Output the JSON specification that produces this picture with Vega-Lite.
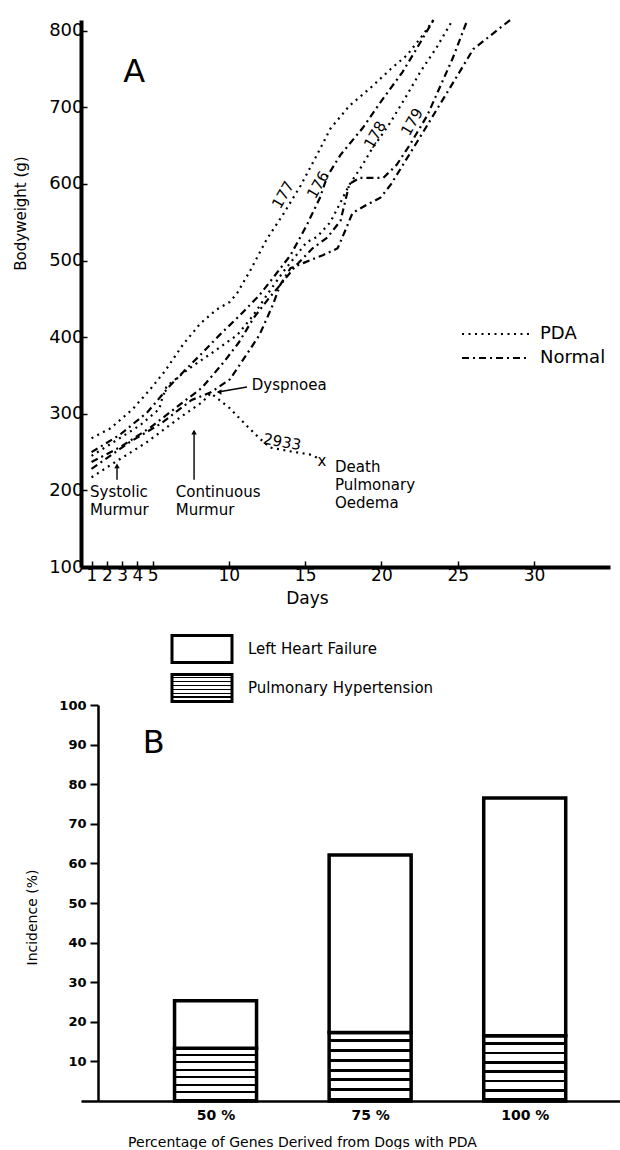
{
  "$schema": "https://vega.github.io/schema/vega-lite/v6.json",
  "background": "white",
  "padding": {"left": 13, "top": 15, "right": 0, "bottom": 0},
  "autosize": {"type": "pad"},
  "bounds": "flush",
  "spacing": 138,
  "config": {
    "font": "DejaVu Sans",
    "view": {"stroke": null},
    "axis": {"grid": false, "domainColor": "black", "tickColor": "black", "labelColor": "black", "titleColor": "black", "titleFontWeight": "normal", "labelOverlap": false, "labelFlush": false, "labelBound": false},
    "legend": {"labelColor": "black", "labelFont": "DejaVu Sans", "labelLimit": 400}
  },
  "datasets": {
    "weights": [
      {"dog": "177", "group": "PDA", "day": 1, "w": 268}, {"dog": "177", "group": "PDA", "day": 2.24, "w": 281}, {"dog": "177", "group": "PDA", "day": 3.69, "w": 306}, {"dog": "177", "group": "PDA", "day": 4.85, "w": 332}, {"dog": "177", "group": "PDA", "day": 5.82, "w": 356}, {"dog": "177", "group": "PDA", "day": 6.98, "w": 390}, {"dog": "177", "group": "PDA", "day": 8.14, "w": 418}, {"dog": "177", "group": "PDA", "day": 9.2, "w": 436}, {"dog": "177", "group": "PDA", "day": 10.07, "w": 446}, {"dog": "177", "group": "PDA", "day": 10.56, "w": 458}, {"dog": "177", "group": "PDA", "day": 11.43, "w": 488}, {"dog": "177", "group": "PDA", "day": 12.49, "w": 528}, {"dog": "177", "group": "PDA", "day": 13.55, "w": 560}, {"dog": "177", "group": "PDA", "day": 14.71, "w": 598}, {"dog": "177", "group": "PDA", "day": 15.78, "w": 638}, {"dog": "177", "group": "PDA", "day": 16.65, "w": 672}, {"dog": "177", "group": "PDA", "day": 17.9, "w": 702}, {"dog": "177", "group": "PDA", "day": 19.26, "w": 725}, {"dog": "177", "group": "PDA", "day": 20.61, "w": 750}, {"dog": "177", "group": "PDA", "day": 21.67, "w": 768}, {"dog": "177", "group": "PDA", "day": 22.74, "w": 795}, {"dog": "177", "group": "PDA", "day": 23.41, "w": 814},
      {"dog": "176", "group": "Normal", "day": 1, "w": 250}, {"dog": "176", "group": "Normal", "day": 2.82, "w": 272}, {"dog": "176", "group": "Normal", "day": 4.66, "w": 302}, {"dog": "176", "group": "Normal", "day": 6.11, "w": 336}, {"dog": "176", "group": "Normal", "day": 7.08, "w": 356}, {"dog": "176", "group": "Normal", "day": 8.14, "w": 377}, {"dog": "176", "group": "Normal", "day": 9.4, "w": 403}, {"dog": "176", "group": "Normal", "day": 10.75, "w": 429}, {"dog": "176", "group": "Normal", "day": 12.01, "w": 455}, {"dog": "176", "group": "Normal", "day": 12.88, "w": 477}, {"dog": "176", "group": "Normal", "day": 14.04, "w": 507}, {"dog": "176", "group": "Normal", "day": 15.1, "w": 546}, {"dog": "176", "group": "Normal", "day": 15.97, "w": 582}, {"dog": "176", "group": "Normal", "day": 16.45, "w": 610}, {"dog": "176", "group": "Normal", "day": 17.32, "w": 638}, {"dog": "176", "group": "Normal", "day": 18.77, "w": 673}, {"dog": "176", "group": "Normal", "day": 20.13, "w": 712}, {"dog": "176", "group": "Normal", "day": 21.38, "w": 746}, {"dog": "176", "group": "Normal", "day": 22.35, "w": 778}, {"dog": "176", "group": "Normal", "day": 23.41, "w": 814},
      {"dog": "178", "group": "PDA", "day": 1, "w": 245}, {"dog": "178", "group": "PDA", "day": 2.44, "w": 263}, {"dog": "178", "group": "PDA", "day": 4.18, "w": 285}, {"dog": "178", "group": "PDA", "day": 5.43, "w": 306}, {"dog": "178", "group": "PDA", "day": 5.63, "w": 320}, {"dog": "178", "group": "PDA", "day": 5.92, "w": 336}, {"dog": "178", "group": "PDA", "day": 7.46, "w": 360}, {"dog": "178", "group": "PDA", "day": 9.01, "w": 381}, {"dog": "178", "group": "PDA", "day": 10.56, "w": 403}, {"dog": "178", "group": "PDA", "day": 11.62, "w": 429}, {"dog": "178", "group": "PDA", "day": 12.49, "w": 455}, {"dog": "178", "group": "PDA", "day": 13.55, "w": 485}, {"dog": "178", "group": "PDA", "day": 15.1, "w": 524}, {"dog": "178", "group": "PDA", "day": 15.78, "w": 531}, {"dog": "178", "group": "PDA", "day": 16.65, "w": 550}, {"dog": "178", "group": "PDA", "day": 17.32, "w": 576}, {"dog": "178", "group": "PDA", "day": 17.9, "w": 599}, {"dog": "178", "group": "PDA", "day": 18.77, "w": 625}, {"dog": "178", "group": "PDA", "day": 19.26, "w": 642}, {"dog": "178", "group": "PDA", "day": 20.61, "w": 681}, {"dog": "178", "group": "PDA", "day": 21.67, "w": 716}, {"dog": "178", "group": "PDA", "day": 22.54, "w": 746}, {"dog": "178", "group": "PDA", "day": 23.61, "w": 778}, {"dog": "178", "group": "PDA", "day": 24.67, "w": 814},
      {"dog": "179", "group": "Normal", "day": 1, "w": 237}, {"dog": "179", "group": "Normal", "day": 2.92, "w": 257}, {"dog": "179", "group": "Normal", "day": 4.85, "w": 282}, {"dog": "179", "group": "Normal", "day": 6.79, "w": 312}, {"dog": "179", "group": "Normal", "day": 8.24, "w": 334}, {"dog": "179", "group": "Normal", "day": 9.69, "w": 368}, {"dog": "179", "group": "Normal", "day": 10.65, "w": 393}, {"dog": "179", "group": "Normal", "day": 11.62, "w": 425}, {"dog": "179", "group": "Normal", "day": 12.59, "w": 450}, {"dog": "179", "group": "Normal", "day": 13.36, "w": 468}, {"dog": "179", "group": "Normal", "day": 14.42, "w": 494}, {"dog": "179", "group": "Normal", "day": 15.49, "w": 516}, {"dog": "179", "group": "Normal", "day": 16.45, "w": 530}, {"dog": "179", "group": "Normal", "day": 17.32, "w": 552}, {"dog": "179", "group": "Normal", "day": 17.9, "w": 600}, {"dog": "179", "group": "Normal", "day": 18.58, "w": 608}, {"dog": "179", "group": "Normal", "day": 20.13, "w": 608}, {"dog": "179", "group": "Normal", "day": 21.0, "w": 625}, {"dog": "179", "group": "Normal", "day": 21.86, "w": 651}, {"dog": "179", "group": "Normal", "day": 23.02, "w": 690}, {"dog": "179", "group": "Normal", "day": 23.8, "w": 725}, {"dog": "179", "group": "Normal", "day": 24.67, "w": 764}, {"dog": "179", "group": "Normal", "day": 25.63, "w": 814},
      {"dog": "N3", "group": "Normal", "day": 1, "w": 228}, {"dog": "N3", "group": "Normal", "day": 3.5, "w": 263}, {"dog": "N3", "group": "Normal", "day": 5.53, "w": 287}, {"dog": "N3", "group": "Normal", "day": 7.56, "w": 318}, {"dog": "N3", "group": "Normal", "day": 8.82, "w": 328}, {"dog": "N3", "group": "Normal", "day": 10.07, "w": 345}, {"dog": "N3", "group": "Normal", "day": 10.75, "w": 365}, {"dog": "N3", "group": "Normal", "day": 12.01, "w": 403}, {"dog": "N3", "group": "Normal", "day": 12.88, "w": 442}, {"dog": "N3", "group": "Normal", "day": 13.36, "w": 468}, {"dog": "N3", "group": "Normal", "day": 14.04, "w": 490}, {"dog": "N3", "group": "Normal", "day": 14.91, "w": 497}, {"dog": "N3", "group": "Normal", "day": 16.16, "w": 507}, {"dog": "N3", "group": "Normal", "day": 17.13, "w": 516}, {"dog": "N3", "group": "Normal", "day": 17.71, "w": 543}, {"dog": "N3", "group": "Normal", "day": 18.1, "w": 562}, {"dog": "N3", "group": "Normal", "day": 19.06, "w": 573}, {"dog": "N3", "group": "Normal", "day": 19.93, "w": 582}, {"dog": "N3", "group": "Normal", "day": 20.61, "w": 599}, {"dog": "N3", "group": "Normal", "day": 22.74, "w": 668}, {"dog": "N3", "group": "Normal", "day": 24.48, "w": 725}, {"dog": "N3", "group": "Normal", "day": 26.02, "w": 776}, {"dog": "N3", "group": "Normal", "day": 28.44, "w": 814},
      {"dog": "2933", "group": "PDA", "day": 1, "w": 217}, {"dog": "2933", "group": "PDA", "day": 2.63, "w": 238}, {"dog": "2933", "group": "PDA", "day": 4.56, "w": 262}, {"dog": "2933", "group": "PDA", "day": 6.79, "w": 295}, {"dog": "2933", "group": "PDA", "day": 8.24, "w": 315}, {"dog": "2933", "group": "PDA", "day": 8.82, "w": 327}, {"dog": "2933", "group": "PDA", "day": 10.07, "w": 307}, {"dog": "2933", "group": "PDA", "day": 11.14, "w": 285}, {"dog": "2933", "group": "PDA", "day": 12.01, "w": 268}, {"dog": "2933", "group": "PDA", "day": 12.68, "w": 256}, {"dog": "2933", "group": "PDA", "day": 14.04, "w": 251}, {"dog": "2933", "group": "PDA", "day": 15.29, "w": 247}, {"dog": "2933", "group": "PDA", "day": 15.85, "w": 242}
    ],
    "notes": [
      {"day": 0.9, "w": 198, "label": "Systolic"},
      {"day": 0.9, "w": 174.4, "label": "Murmur"},
      {"day": 6.52, "w": 198, "label": "Continuous"},
      {"day": 6.52, "w": 174.4, "label": "Murmur"},
      {"day": 11.5, "w": 337.6, "label": "Dyspnoea"},
      {"day": 16.96, "w": 230.5, "label": "Death"},
      {"day": 16.96, "w": 207, "label": "Pulmonary"},
      {"day": 16.96, "w": 183.5, "label": "Oedema"}
    ],
    "arrows": [
      {"day": 2.67, "w": 214, "day2": 2.67, "w2": 233},
      {"day": 7.72, "w": 214, "day2": 7.72, "w2": 277},
      {"day": 11.19, "w": 335, "day2": 9.3, "w2": 328.5}
    ],
    "headsUp": [
      {"day": 2.67, "w": 232},
      {"day": 7.72, "w": 276}
    ],
    "headsLeft": [
      {"day": 9.36, "w": 328.4}
    ],
    "dogLabels": [
      {"day": 13.55, "w": 585.6, "label": "177"},
      {"day": 15.85, "w": 598.7, "label": "176"},
      {"day": 19.58, "w": 664, "label": "178"},
      {"day": 22.01, "w": 681, "label": "179"}
    ],
    "incidence": [
      {"pct": 50, "cat": "Pulmonary Hypertension", "value": 13.3},
      {"pct": 50, "cat": "Left Heart Failure", "value": 12},
      {"pct": 75, "cat": "Pulmonary Hypertension", "value": 17.3},
      {"pct": 75, "cat": "Left Heart Failure", "value": 44.8},
      {"pct": 100, "cat": "Pulmonary Hypertension", "value": 16.5},
      {"pct": 100, "cat": "Left Heart Failure", "value": 60}
    ]
  },
  "vconcat": [
    {
      "width": 529,
      "height": 547,
      "encoding": {
        "x": {"field": "day", "type": "quantitative", "scale": {"domain": [0.31, 34.98], "nice": false, "zero": false},
          "axis": {"values": [1, 2, 3, 4, 5, 10, 15, 20, 25, 30], "title": "Days", "domainWidth": 4, "tickSize": -6, "tickWidth": 1.5, "labelFontSize": 17, "labelPadding": 6, "titleFontSize": 17, "titleX": 226, "titleY": 31, "titleBaseline": "middle", "titleAlign": "center"}},
        "y": {"field": "w", "type": "quantitative", "scale": {"domain": [100, 814], "nice": false, "zero": false},
          "axis": {"values": [100, 200, 300, 400, 500, 600, 700, 800], "title": "Bodyweight (g)", "domainWidth": 4, "tickSize": -6, "tickWidth": 1.5, "labelFontSize": 18, "labelPadding": 4, "titleFontSize": 15, "titleX": -61, "titleY": 193, "titleAngle": -90, "titleAlign": "center", "titleBaseline": "middle"}}
      },
      "layer": [
        {
          "data": {"name": "weights"},
          "mark": {"type": "line", "color": "black", "strokeWidth": 2.2, "strokeCap": "butt"},
          "encoding": {
            "detail": {"field": "dog", "type": "nominal"},
            "strokeDash": {"field": "group", "type": "nominal", "scale": {"domain": ["PDA", "Normal"], "range": [[2, 4.5], [7, 4, 2, 4]]},
              "legend": {"orient": "none", "legendX": 405, "legendY": 304, "title": null, "symbolType": "M-4,0H4", "symbolSize": 289, "symbolStrokeWidth": 2.2, "symbolStrokeColor": "black", "labelFontSize": 18, "labelOffset": 34, "rowPadding": 5}}
          }
        },
        {
          "data": {"name": "arrows"},
          "mark": {"type": "rule", "color": "black", "strokeWidth": 1.4},
          "encoding": {"x2": {"field": "day2"}, "y2": {"field": "w2"}}
        },
        {
          "data": {"name": "headsUp"},
          "mark": {"type": "point", "shape": "triangle-up", "filled": true, "color": "black", "size": 30, "opacity": 1},
          "encoding": {}
        },
        {
          "data": {"name": "headsLeft"},
          "mark": {"type": "point", "shape": "triangle-left", "filled": true, "color": "black", "size": 30, "opacity": 1},
          "encoding": {}
        },
        {
          "data": {"name": "notes"},
          "mark": {"type": "text", "align": "left", "baseline": "middle", "fontSize": 15, "color": "black"},
          "encoding": {"text": {"field": "label"}}
        },
        {
          "data": {"name": "dogLabels"},
          "mark": {"type": "text", "align": "center", "baseline": "middle", "fontSize": 15, "angle": -60, "color": "black"},
          "encoding": {"text": {"field": "label"}}
        },
        {
          "data": {"values": [{"day": 13.49, "w": 263.2, "label": "2933"}]},
          "mark": {"type": "text", "align": "center", "baseline": "middle", "fontSize": 15, "angle": 10, "color": "black"},
          "encoding": {"text": {"field": "label"}}
        },
        {
          "data": {"values": [{"day": 16.1, "w": 239, "label": "x"}]},
          "mark": {"type": "text", "align": "center", "baseline": "middle", "fontSize": 15, "color": "black"},
          "encoding": {"text": {"field": "label"}}
        },
        {
          "data": {"values": [{"day": 3.79, "w": 746, "label": "A"}]},
          "mark": {"type": "text", "align": "center", "baseline": "middle", "fontSize": 32, "color": "black"},
          "encoding": {"text": {"field": "label"}}
        }
      ]
    },
    {
      "width": 539,
      "height": 396,
      "encoding": {
        "x": {"field": "pct", "type": "quantitative", "scale": {"domain": [29.05, 114.6], "nice": false, "zero": false},
          "axis": {"values": [50, 75, 100], "labelExpr": "datum.value + ' %'", "title": "Percentage of Genes Derived from Dogs with PDA", "ticks": false, "domainWidth": 2.5, "labelFontSize": 14, "labelFontWeight": "bold", "labelPadding": 7, "titleFontSize": 14, "titleX": 221, "titleY": 41, "titleBaseline": "middle", "titleAlign": "center"}}
      },
      "layer": [
        {
          "data": {"name": "incidence"},
          "mark": {"type": "bar", "orient": "vertical", "size": 82, "stroke": "black", "strokeWidth": 3.5},
          "encoding": {
            "y": {"field": "value", "type": "quantitative", "stack": "zero", "scale": {"domain": [0, 100], "nice": false},
              "axis": {"values": [10, 20, 30, 40, 50, 60, 70, 80, 90, 100], "title": "Incidence (%)", "offset": -17, "domainWidth": 2.5, "tickSize": 8, "tickWidth": 2, "labelFontSize": 13, "labelFontWeight": "bold", "labelPadding": 4, "titleFontSize": 14, "titleX": -66, "titleY": 212, "titleAngle": -90, "titleAlign": "center", "titleBaseline": "middle"}},
            "fill": {"field": "cat", "type": "nominal",
              "scale": {"domain": ["Left Heart Failure", "Pulmonary Hypertension"],
                "range": ["white", {"expr": "{gradient:'linear',x1:0,y1:0,x2:0,y2:1,stops:[{offset:0,color:'#fff'},{offset:0.1,color:'#fff'},{offset:0.1,color:'#000'},{offset:0.143,color:'#000'},{offset:0.143,color:'#fff'},{offset:0.243,color:'#fff'},{offset:0.243,color:'#000'},{offset:0.286,color:'#000'},{offset:0.286,color:'#fff'},{offset:0.386,color:'#fff'},{offset:0.386,color:'#000'},{offset:0.429,color:'#000'},{offset:0.429,color:'#fff'},{offset:0.529,color:'#fff'},{offset:0.529,color:'#000'},{offset:0.571,color:'#000'},{offset:0.571,color:'#fff'},{offset:0.671,color:'#fff'},{offset:0.671,color:'#000'},{offset:0.714,color:'#000'},{offset:0.714,color:'#fff'},{offset:0.814,color:'#fff'},{offset:0.814,color:'#000'},{offset:0.857,color:'#000'},{offset:0.857,color:'#fff'},{offset:0.957,color:'#fff'},{offset:0.957,color:'#000'},{offset:1,color:'#000'}]}"}]},
              "legend": {"orient": "none", "legendX": 104.5, "legendY": 612.5, "title": null, "symbolType": "M-2,-0.9H2V0.9H-2Z", "symbolSize": 900, "symbolStrokeColor": "black", "symbolStrokeWidth": 3, "symbolOpacity": 1, "labelFontSize": 15, "labelOffset": 29.5, "rowPadding": 0}},
            "order": {"field": "cat", "sort": "descending"}
          }
        },
        {
          "data": {"values": [{"pct": 40, "value": 90.4, "label": "B"}]},
          "mark": {"type": "text", "align": "center", "baseline": "middle", "fontSize": 32, "color": "black"},
          "encoding": {"y": {"field": "value", "type": "quantitative"}, "text": {"field": "label"}}
        }
      ]
    }
  ]
}
